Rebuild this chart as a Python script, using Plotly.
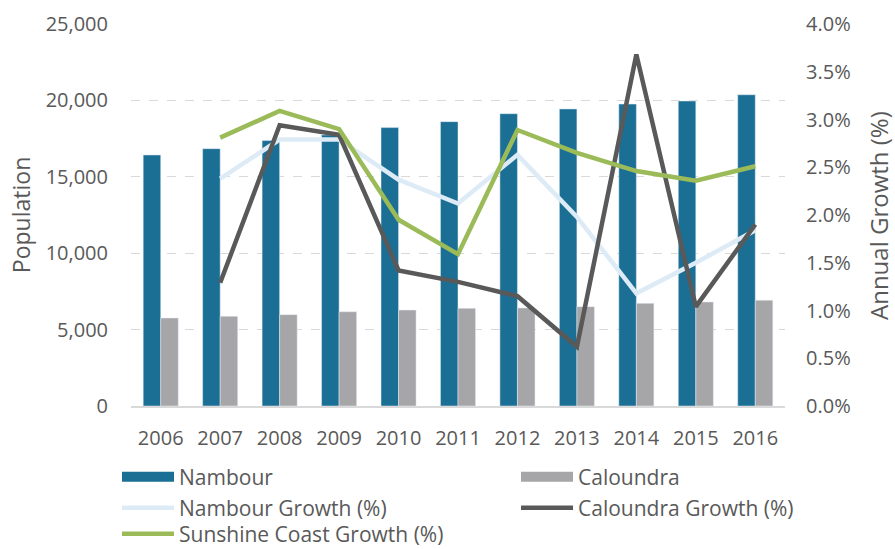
import plotly.graph_objects as go

years = ["2006", "2007", "2008", "2009", "2010", "2011", "2012", "2013", "2014", "2015", "2016"]
growth_years = years[1:]

nambour_pop = [16430, 16840, 17370, 17740, 18220, 18610, 19130, 19440, 19760, 19960, 20370]
caloundra_pop = [5760, 5870, 5980, 6170, 6280, 6390, 6420, 6500, 6720, 6810, 6920]

nambour_growth = [2.38, 2.79, 2.79, 2.37, 2.12, 2.63, 1.98, 1.18, 1.50, 1.84]
caloundra_growth = [1.29, 2.94, 2.84, 1.42, 1.30, 1.15, 0.62, 3.68, 1.04, 1.90]
sunshine_growth = [2.81, 3.09, 2.90, 1.95, 1.59, 2.89, 2.65, 2.46, 2.36, 2.51]

left_ticks = [0, 5000, 10000, 15000, 20000, 25000]
right_ticks = [0.0, 0.5, 1.0, 1.5, 2.0, 2.5, 3.0, 3.5, 4.0]
right_tick_labels = ["0.0%", "0.5%", "1.0%", "1.5%", "2.0%", "2.5%", "3.0%", "3.5%", "4.0%"]

C_NAM = "#1B6F95"
C_CAL = "#A6A6A8"
C_NG = "#DDEBF7"
C_CG = "#595959"
C_SG = "#9BBB59"
TXT = "#595959"
FONT = "Open Sans"

fig = go.Figure()
fig.add_trace(go.Bar(x=years, y=nambour_pop, marker_color=C_NAM, showlegend=False, name="Nambour"))
fig.add_trace(go.Bar(x=years, y=caloundra_pop, marker_color=C_CAL, showlegend=False, name="Caloundra"))

# legend-only swatches for the bars (wide rectangles)
fig.add_trace(go.Scatter(x=[None], y=[None], mode="lines", line=dict(color=C_NAM, width=12),
                         name="Nambour", legend="legend"))
fig.add_trace(go.Scatter(x=[None], y=[None], mode="lines", line=dict(color=C_CAL, width=12),
                         name="Caloundra", legend="legend2"))

fig.add_trace(go.Scatter(x=growth_years, y=nambour_growth, mode="lines", yaxis="y2",
                         line=dict(color=C_NG, width=4.5), name="Nambour Growth (%)", legend="legend3"))
fig.add_trace(go.Scatter(x=growth_years, y=caloundra_growth, mode="lines", yaxis="y2",
                         line=dict(color=C_CG, width=4.5), name="Caloundra Growth (%)", legend="legend4"))
fig.add_trace(go.Scatter(x=growth_years, y=sunshine_growth, mode="lines", yaxis="y2",
                         line=dict(color=C_SG, width=4.5), name="Sunshine Coast Growth (%)", legend="legend5"))


def leg(x, y, orientation="v"):
    return dict(x=x, y=y, xanchor="left", yanchor="middle", orientation=orientation,
                itemwidth=52, font=dict(family=FONT, size=21, color=TXT),
                bgcolor="rgba(0,0,0,0)", borderwidth=0)


fig.update_layout(
    width=895, height=549,
    margin=dict(l=131, r=110, t=24, b=143, autoexpand=False),
    plot_bgcolor="white", paper_bgcolor="white",
    font=dict(family=FONT, size=20, color=TXT),
    barmode="group", bargap=0.41, bargroupgap=0,
    xaxis=dict(type="category", showline=True, linecolor="#D9D9D9", linewidth=1.5,
               ticks="", showgrid=False, tickfont=dict(size=20, color=TXT),
               ticklabelstandoff=13),
    yaxis=dict(range=[0, 25000], tickvals=left_ticks, tickformat=",d",
               showgrid=True, gridcolor="#D9D9D9", griddash="dash", gridwidth=1,
               zeroline=False, ticks="", tickfont=dict(size=20, color=TXT),
               ticklabelstandoff=22),
    yaxis2=dict(range=[0, 4.0], tickvals=right_ticks, ticktext=right_tick_labels,
                overlaying="y", side="right", showgrid=False, zeroline=False, ticks="",
                tickfont=dict(size=20, color=TXT), ticklabelstandoff=20),
    legend=leg(-0.0214, -0.186),
    legend2=leg(0.5887, -0.186),
    legend3=leg(-0.0214, -0.267),
    legend4=leg(0.5887, -0.267),
    legend5=leg(-0.0214, -0.3351, "h"),
    annotations=[
        dict(text="Population", xref="paper", yref="paper", x=-0.168, y=0.5,
             xanchor="center", yanchor="middle", textangle=-90, showarrow=False,
             font=dict(family=FONT, size=23, color=TXT)),
        dict(text="Annual Growth (%)", xref="paper", yref="paper", x=1.1422, y=0.5,
             xanchor="center", yanchor="middle", textangle=-90, showarrow=False,
             font=dict(family=FONT, size=24, color=TXT)),
    ],
)

fig.write_html("out.html", config={"displayModeBar": False},
               post_script="document.body.style.margin='0px';")
